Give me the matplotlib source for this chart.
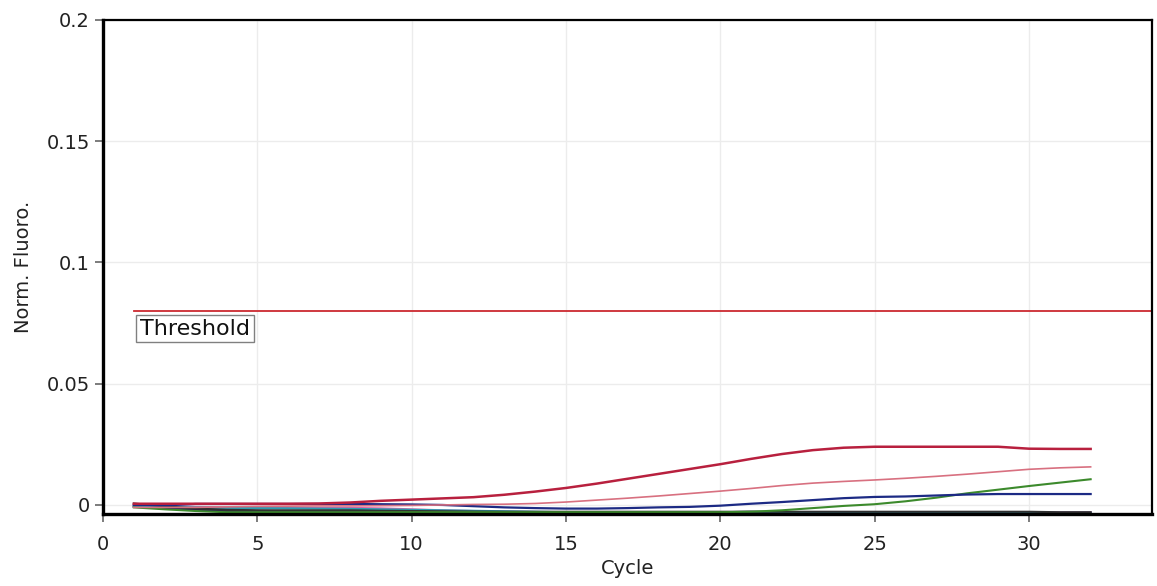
import matplotlib
matplotlib.use("Agg")
import matplotlib.pyplot as plt
import numpy as np

# qPCR amplification curves (Norm. Fluoro. per cycle)
cycles = np.arange(1, 33)

red = [0.0005, 0.0005, 0.0005, 0.0005, 0.0005, 0.0005, 0.0006, 0.0010,
       0.0017, 0.0022, 0.0027, 0.0032, 0.0042, 0.0055, 0.0070, 0.0088,
       0.0108, 0.0128, 0.0148, 0.0168, 0.0190, 0.0210, 0.0226, 0.0236,
       0.0240, 0.0240, 0.0240, 0.0240, 0.0240, 0.0232, 0.0231, 0.0231]
pink = [-0.0010, -0.0010, -0.0010, -0.0008, -0.0006, -0.0005, -0.0004, -0.0004,
        -0.0003, -0.0002, 0.0000, 0.0002, 0.0003, 0.0006, 0.0012, 0.0020,
        0.0028, 0.0037, 0.0047, 0.0057, 0.0068, 0.0080, 0.0090, 0.0097,
        0.0103, 0.0110, 0.0118, 0.0127, 0.0137, 0.0147, 0.0153, 0.0157]
blue = [0.0000, -0.0002, 0.0004, 0.0004, 0.0004, 0.0004, 0.0004, 0.0004,
        0.0003, 0.0002, 0.0000, -0.0005, -0.0010, -0.0013, -0.0015, -0.0015,
        -0.0013, -0.0010, -0.0008, -0.0003, 0.0005, 0.0012, 0.0020, 0.0028,
        0.0033, 0.0035, 0.0039, 0.0043, 0.0045, 0.0045, 0.0045, 0.0045]
green = [-0.0010, -0.0018, -0.0025, -0.0030, -0.0030, -0.0030, -0.0030, -0.0030,
         -0.0030, -0.0030, -0.0030, -0.0030, -0.0030, -0.0030, -0.0030, -0.0030,
         -0.0030, -0.0030, -0.0030, -0.0030, -0.0028, -0.0022, -0.0013, -0.0004,
         0.0003, 0.0015, 0.0030, 0.0048, 0.0063, 0.0078, 0.0092, 0.0106]
black = [0.0006, -0.0006, -0.0015, -0.0020, -0.0022, -0.0022, -0.0022, -0.0022,
         -0.0024, -0.0025, -0.0026, -0.0027, -0.0028, -0.0028, -0.0028, -0.0028,
         -0.0028, -0.0028, -0.0028, -0.0028, -0.0028, -0.0028, -0.0028, -0.0028,
         -0.0028, -0.0028, -0.0028, -0.0028, -0.0028, -0.0028, -0.0030, -0.0030]
teal = [-0.0005, -0.0008, -0.0010, -0.0012, -0.0013, -0.0014, -0.0015, -0.0016,
        -0.0018, -0.0020, -0.0022, -0.0024, -0.0026, -0.0028, -0.0030, -0.0031,
        -0.0032, -0.0032, -0.0032, -0.0032, -0.0032, -0.0032, -0.0032, -0.0032,
        -0.0032, -0.0032, -0.0032, -0.0032, -0.0032, -0.0032, -0.0032, -0.0032]
magenta = [-0.0004, -0.0006, -0.0008, -0.0010, -0.0011, -0.0012, -0.0012, -0.0012,
           -0.0014, -0.0018, -0.0022, -0.0025, -0.0027, -0.0029, -0.0030, -0.0030,
           -0.0030, -0.0030, -0.0030, -0.0030, -0.0030, -0.0030, -0.0030, -0.0030,
           -0.0030, -0.0030, -0.0030, -0.0030, -0.0030, -0.0030, -0.0030, -0.0030]
purple = [-0.0006, -0.0012, -0.0020, -0.0026, -0.0030, -0.0030, -0.0028, -0.0026,
          -0.0026, -0.0028, -0.0030, -0.0031, -0.0032, -0.0033, -0.0033, -0.0033,
          -0.0033, -0.0033, -0.0032, -0.0030, -0.0028, -0.0030, -0.0033, -0.0033,
          -0.0033, -0.0033, -0.0033, -0.0033, -0.0033, -0.0033, -0.0033, -0.0033]
maroon = [-0.0008, -0.0012, -0.0016, -0.0020, -0.0024, -0.0026, -0.0028, -0.0030,
          -0.0031, -0.0032, -0.0033, -0.0033, -0.0033, -0.0033, -0.0033, -0.0033,
          -0.0033, -0.0033, -0.0033, -0.0033, -0.0033, -0.0033, -0.0033, -0.0033,
          -0.0033, -0.0033, -0.0033, -0.0033, -0.0033, -0.0033, -0.0033, -0.0033]

threshold = 0.08
threshold_start = 1

x_ticks = [0, 5, 10, 15, 20, 25, 30]
y_ticks = [0, 0.05, 0.1, 0.15, 0.2]
y_tick_labels = ["0", "0.05", "0.1", "0.15", "0.2"]

plt.rcParams["font.family"] = ["DejaVu Sans"]

fig = plt.figure(figsize=(11.57, 5.86), dpi=100)
ax = fig.add_axes([0.089, 0.123, 0.907, 0.843])

ax.set_xlim(0, 34)
ax.set_ylim(-0.0037, 0.2)

ax.grid(True, color="#ececec", linewidth=1.0)
ax.set_axisbelow(True)

# baseline curves first, amplifying ones on top
ax.plot(cycles, maroon, color="#5a0a1a", lw=1.5)
ax.plot(cycles, purple, color="#2a1060", lw=1.5)
ax.plot(cycles, magenta, color="#e060a8", lw=1.5)
ax.plot(cycles, teal, color="#2a9cb0", lw=1.5)
ax.plot(cycles, black, color="#303030", lw=1.5)
ax.plot(cycles, green, color="#3c8a2c", lw=1.5)
ax.plot(cycles, blue, color="#1c2a84", lw=1.6)
ax.plot(cycles, pink, color="#d87080", lw=1.2)
ax.plot(cycles, red, color="#b8203e", lw=1.8)

ax.plot([threshold_start, 34], [threshold, threshold], color="#cc2a30", lw=1.3)
ax.text(threshold_start + 0.2, threshold - 0.0032, "Threshold", fontsize=16,
        ha="left", va="top", color="#111111",
        bbox=dict(boxstyle="square,pad=0.17", facecolor="white",
                  edgecolor="#808080", linewidth=1.0))

ax.set_xticks(x_ticks)
ax.set_yticks(y_ticks)
ax.set_yticklabels(y_tick_labels)
ax.tick_params(axis="both", labelsize=14, labelcolor="#222222", color="#666666",
               length=6, width=1.2, direction="out")
ax.tick_params(axis="x", pad=9)

ax.set_xlabel("Cycle", fontsize=14, color="#222222", labelpad=4)
ax.set_ylabel("Norm. Fluoro.", fontsize=14, color="#222222", labelpad=10)

ax.spines["left"].set_linewidth(2.4)
ax.spines["bottom"].set_linewidth(2.4)
ax.spines["top"].set_linewidth(1.6)
ax.spines["right"].set_linewidth(1.6)
for s in ax.spines.values():
    s.set_color("black")

fig.savefig("out.png", dpi=100)
